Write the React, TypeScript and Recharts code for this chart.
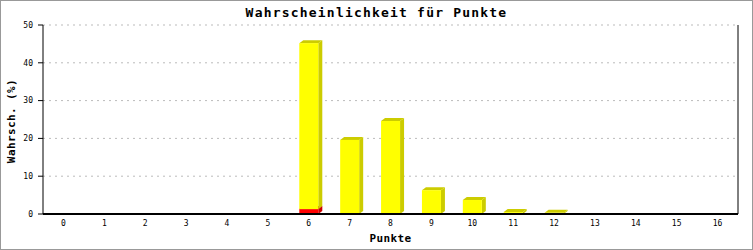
import { BarChart, Bar, XAxis, YAxis, CartesianGrid } from 'recharts'

const categories = ['0', '1', '2', '3', '4', '5', '6', '7', '8', '9', '10', '11', '12', '13', '14', '15', '16']
const redValues = [0, 0, 0, 0, 0, 0, 1.3, 0, 0, 0, 0, 0, 0, 0, 0, 0, 0]
const yellowValues = [0, 0, 0, 0, 0, 0, 43.9, 19.6, 24.6, 6.3, 3.7, 0.5, 0.3, 0, 0, 0, 0]
const yTicks = [0, 10, 20, 30, 40, 50]

const data = categories.map((c, i) => ({ name: c, red: redValues[i], yellow: yellowValues[i] }))

const MONO = '"DejaVu Sans Mono", "Liberation Mono", monospace'

function Bar3D(props: any) {
  const { x, y, width, height, fill, side } = props
  if (!height || height <= 0) return null
  const d = 4, e = 3
  return (
    <g>
      <polygon points={`${x},${y} ${x + d},${y - e} ${x + width + d},${y - e} ${x + width},${y}`} fill={side} />
      <polygon points={`${x + width},${y} ${x + width + d},${y - e} ${x + width + d},${y + height - e} ${x + width},${y + height}`} fill={side} />
      <rect x={x} y={y} width={width} height={height} fill={fill} />
    </g>
  )
}

export default function App() {
  return (
    <div style={{ position: 'absolute', left: 0, top: 0, width: 753, height: 250, border: '1px solid #999', boxSizing: 'border-box', background: '#fff' }}>
      <div style={{ position: 'absolute', left: -1, top: -1 }}>
        <BarChart width={753} height={250} data={data} margin={{ top: 25, right: 0, bottom: 0, left: 0 }} barSize={19}>
          <CartesianGrid vertical={false} stroke="#bbb" strokeDasharray="2 4" yAxisId="l" />
          <XAxis
            dataKey="name"
            height={36}
            axisLine={{ stroke: '#000', strokeWidth: 2 }}
            tickLine={false}
            tickSize={4}
            tickMargin={2}
            tick={{ fill: '#000', fontSize: 8, fontFamily: MONO }}
            interval={0}
          />
          <YAxis
            yAxisId="l"
            width={43}
            domain={[0, 50]}
            ticks={yTicks}
            axisLine={{ stroke: '#000' }}
            tickLine={{ stroke: '#000' }}
            tickSize={5}
            tickMargin={5}
            tick={{ fill: '#000', fontSize: 8, fontFamily: MONO }}
          />
          <YAxis
            yAxisId="r"
            orientation="right"
            width={15}
            domain={[0, 50]}
            tick={false}
            tickLine={false}
            axisLine={{ stroke: '#000' }}
          />
          <Bar yAxisId="l" dataKey="red" stackId="a" fill="#ff0000" isAnimationActive={false} shape={(p: any) => <Bar3D {...p} fill="#ff0000" side="#cc0000" />} />
          <Bar yAxisId="l" dataKey="yellow" stackId="a" fill="#ffff00" isAnimationActive={false} shape={(p: any) => <Bar3D {...p} fill="#ffff00" side="#cccc00" />} />
        </BarChart>
      </div>
      <div style={{ position: 'absolute', left: 0, width: 751, top: 4, textAlign: 'center', fontFamily: MONO, fontWeight: 'bold', fontSize: 13, letterSpacing: 1.2, lineHeight: '16px' }}>
        Wahrscheinlichkeit für Punkte
      </div>
      <div style={{ position: 'absolute', left: 264, width: 251, top: 231, textAlign: 'center', fontFamily: MONO, fontWeight: 'bold', fontSize: 11, letterSpacing: 0.4, lineHeight: '14px' }}>
        Punkte
      </div>
      <div style={{ position: 'absolute', left: 11 - 60, width: 120, top: 120 - 7, textAlign: 'center', fontFamily: MONO, fontWeight: 'bold', fontSize: 11, letterSpacing: 0.4, lineHeight: '14px', transform: 'rotate(-90deg)' }}>
        Wahrsch. (%)
      </div>
    </div>
  )
}
